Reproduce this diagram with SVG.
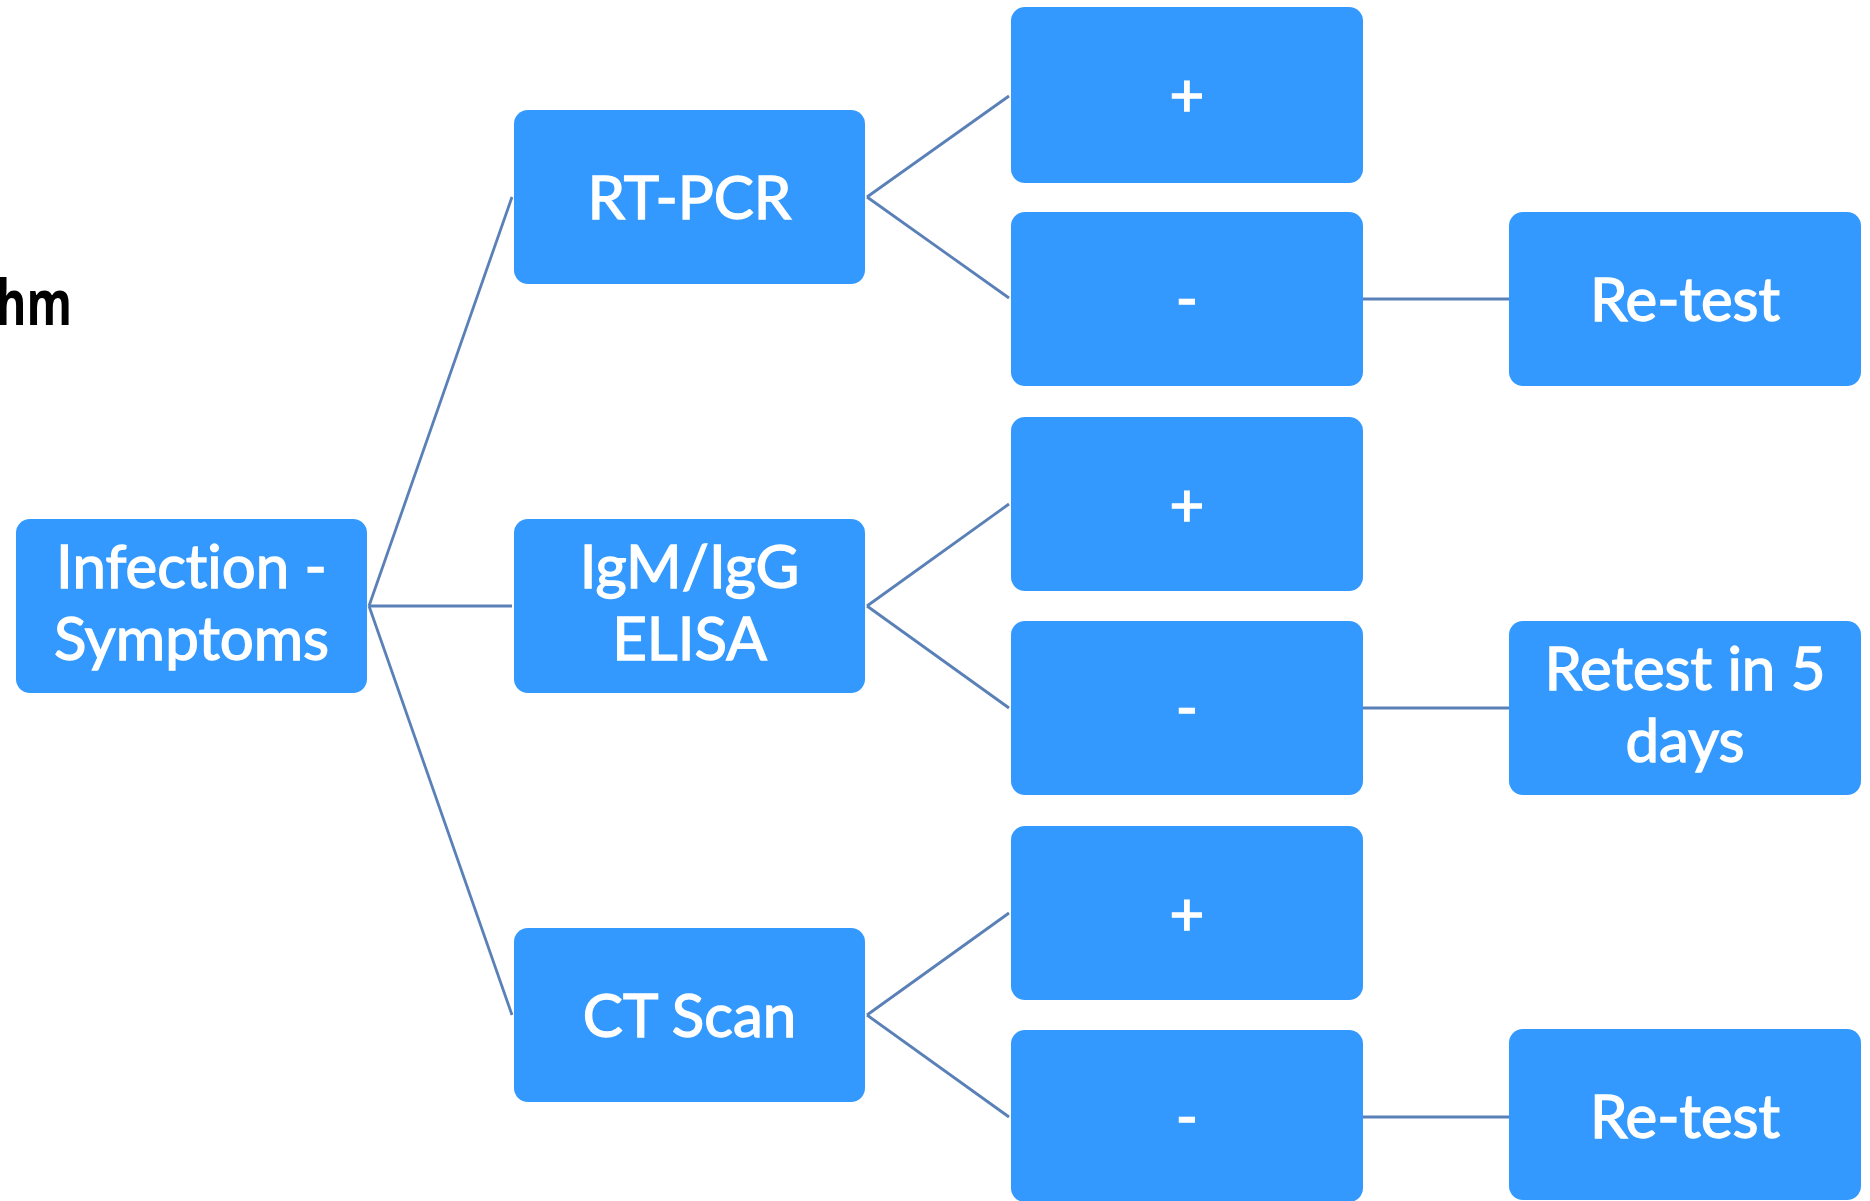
<svg xmlns="http://www.w3.org/2000/svg" width="1870" height="1201" viewBox="0 0 1870 1201">
<style>
.box{fill:#3399ff;}
.t{fill:#ffffff;stroke:#ffffff;stroke-width:1.4;font-family:Lato,"Open Sans",sans-serif;font-size:60px;text-anchor:middle;font-variant-ligatures:none;font-feature-settings:"liga" 0;}
.c{stroke:#5a80b8;stroke-width:2.8;fill:none;}
.title{fill:#000000;font-family:"Open Sans","Noto Sans",sans-serif;font-size:62px;font-weight:bold;}
</style>
<rect width="1870" height="1201" fill="#ffffff"/>
<text class="title" x="-4" y="325" textLength="76" lengthAdjust="spacingAndGlyphs">hm</text>
<g id="connectors">
<line class="c" x1="369" y1="606" x2="512" y2="197"/>
<line class="c" x1="369" y1="606" x2="512" y2="606"/>
<line class="c" x1="369" y1="606" x2="512" y2="1015"/>
<line class="c" x1="867" y1="197" x2="1009" y2="96"/>
<line class="c" x1="867" y1="197" x2="1009" y2="298"/>
<line class="c" x1="867" y1="606" x2="1009" y2="504"/>
<line class="c" x1="867" y1="606" x2="1009" y2="708"/>
<line class="c" x1="867" y1="1015" x2="1009" y2="913"/>
<line class="c" x1="867" y1="1015" x2="1009" y2="1117"/>
<line class="c" x1="1363" y1="299" x2="1509" y2="299"/>
<line class="c" x1="1363" y1="708" x2="1509" y2="708"/>
<line class="c" x1="1363" y1="1117" x2="1509" y2="1117"/>
</g>
<g id="infection"><rect class="box" x="16" y="519" width="351" height="174" rx="14"/><text class="t" x="191.5" y="588">Infection -</text><text class="t" x="191.5" y="660">Symptoms</text></g>
<g id="rtpcr"><rect class="box" x="514" y="110" width="351" height="174" rx="14"/><text class="t" x="689.5" y="219">RT-PCR</text></g>
<g id="elisa"><rect class="box" x="514" y="519" width="351" height="174" rx="14"/><text class="t" x="689.5" y="588">IgM/IgG</text><text class="t" x="689.5" y="660">ELISA</text></g>
<g id="ctscan"><rect class="box" x="514" y="928" width="351" height="174" rx="14"/><text class="t" x="689.5" y="1037">CT Scan</text></g>
<g id="pcr-pos"><rect class="box" x="1011" y="7" width="352" height="176" rx="14"/><text class="t" x="1187" y="116">+</text></g>
<g id="pcr-neg"><rect class="box" x="1011" y="212" width="352" height="174" rx="14"/><text class="t" x="1187" y="320">-</text></g>
<g id="elisa-pos"><rect class="box" x="1011" y="417" width="352" height="174" rx="14"/><text class="t" x="1187" y="526">+</text></g>
<g id="elisa-neg"><rect class="box" x="1011" y="621" width="352" height="174" rx="14"/><text class="t" x="1187" y="729">-</text></g>
<g id="ct-pos"><rect class="box" x="1011" y="826" width="352" height="174" rx="14"/><text class="t" x="1187" y="935">+</text></g>
<g id="ct-neg"><rect class="box" x="1011" y="1030" width="352" height="172" rx="14"/><text class="t" x="1187" y="1138">-</text></g>
<g id="retest1"><rect class="box" x="1509" y="212" width="352" height="174" rx="14"/><text class="t" x="1685" y="321">Re-test</text></g>
<g id="retest5"><rect class="box" x="1509" y="621" width="352" height="174" rx="14"/><text class="t" x="1685" y="690">Retest in 5</text><text class="t" x="1685" y="762">days</text></g>
<g id="retest3"><rect class="box" x="1509" y="1029" width="352" height="171" rx="14"/><text class="t" x="1685" y="1138">Re-test</text></g>
</svg>
